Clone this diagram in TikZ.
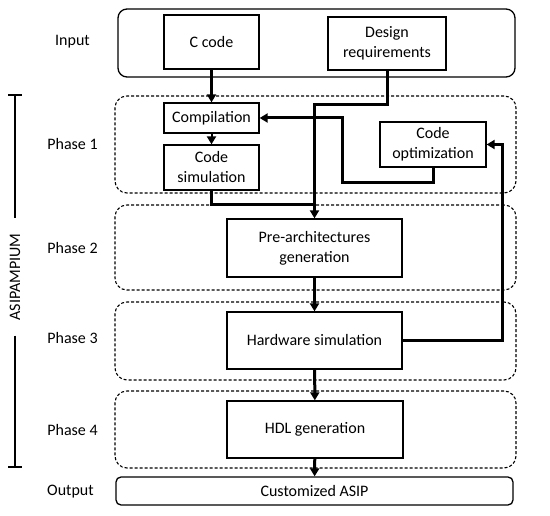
\documentclass[tikz,border=0pt]{standalone}
\usepackage{fontspec}
\setmainfont{Carlito}
\usetikzlibrary{arrows.meta}
\begin{document}
\begin{tikzpicture}[x=1pt, y=-1pt,
    font=\fontsize{16}{20}\selectfont,
    box/.style={draw, line width=1.3pt, inner sep=0pt, align=center},
    group/.style={draw, line width=1.3pt, rounded corners=9pt, inner sep=0pt},
    phase/.style={draw, line width=1.1pt, dash pattern=on 3pt off 2pt, rounded corners=12pt, inner sep=0pt},
    flow/.style={line width=3pt, -{Triangle[length=8pt, width=9pt]}},
    wire/.style={line width=3pt}]

  \useasboundingbox (0,0) rectangle (550,516);

  % Input
  \node[group, minimum width=397pt, minimum height=68pt] (inbox) at (316.5,43) {};
  \node (inlabel) at (72.5,42) {Input};
  \node[box, minimum width=95pt, minimum height=54pt] (ccode) at (211.5,42) {C code};
  \node[box, minimum width=118pt, minimum height=53pt] (design) at (387,43.5) {Design\\requirements};

  % Phase 1
  \node[phase, minimum width=401pt, minimum height=97pt] (ph1) at (315.5,144.5) {};
  \node (ph1label) at (72.5,144) {Phase 1};
  \node[box, minimum width=95pt, minimum height=30pt] (comp) at (211.5,118) {Compilation};
  \node[box, minimum width=95pt, minimum height=45pt] (csim) at (211.5,167.5) {Code\\simulation};
  \node[box, minimum width=106pt, minimum height=45pt] (copt) at (433,144.5) {Code\\optimization};

  % Phase 2
  \node[phase, minimum width=401pt, minimum height=85pt] (ph2) at (315.5,247.5) {};
  \node (ph2label) at (72.5,248) {Phase 2};
  \node[box, minimum width=175pt, minimum height=58pt] (pre) at (314.5,248) {Pre-architectures\\generation};

  % Phase 3
  \node[phase, minimum width=401pt, minimum height=78pt] (ph3) at (315.5,341) {};
  \node (ph3label) at (72.5,338) {Phase 3};
  \node[box, minimum width=175pt, minimum height=57pt] (hw) at (314.5,340.5) {Hardware simulation};

  % Phase 4
  \node[phase, minimum width=401pt, minimum height=77pt] (ph4) at (315.5,429.5) {};
  \node (ph4label) at (72.5,430) {Phase 4};
  \node[box, minimum width=176pt, minimum height=57pt] (hdl) at (315,429.5) {HDL generation};

  % Output
  \node[group, rounded corners=5pt, minimum width=397pt, minimum height=28pt] (asipout) at (314.5,491) {Customized ASIP};
  \node (outlabel) at (70.5,492) {Output};

  % ASIPAMPIUM bracket
  \node[rotate=90, inner xsep=15pt, inner ysep=0pt] (asip) at (15,277) {ASIPAMPIUM};
  \coordinate (asiptop) at (15,95);
  \coordinate (asipbot) at (15,467);
  \draw[line width=2.2pt] (asiptop) -- (asip.east);
  \draw[line width=2.2pt] (asip.west) -- (asipbot);
  \draw[line width=2.2pt] ([xshift=-7pt]asiptop) -- ([xshift=7pt]asiptop);
  \draw[line width=2.2pt] ([xshift=-7pt]asipbot) -- ([xshift=7pt]asipbot);

  % Connectors
  \coordinate (join) at (314.5,205);
  \coordinate (fb1) at (342,183);
  \coordinate (fbx) at (502,0);
  \draw[flow] (ccode) -- (comp);
  \draw[flow, line width=2pt] (comp) -- (csim);
  \draw[flow] (design.south) -- (design.south |- 0,105) -| (pre.north);
  \draw[wire] (csim.south) |- (join);
  \draw[flow] (copt.south) |- (fb1) |- (comp.east);
  \draw[flow] (hw.east) -- (hw.east -| fbx) |- (copt.east);
  \draw[flow] (pre) -- (hw);
  \draw[flow] (hw) -- (hdl);
  \draw[flow] (hdl) -- (asipout);
\end{tikzpicture}
\end{document}
